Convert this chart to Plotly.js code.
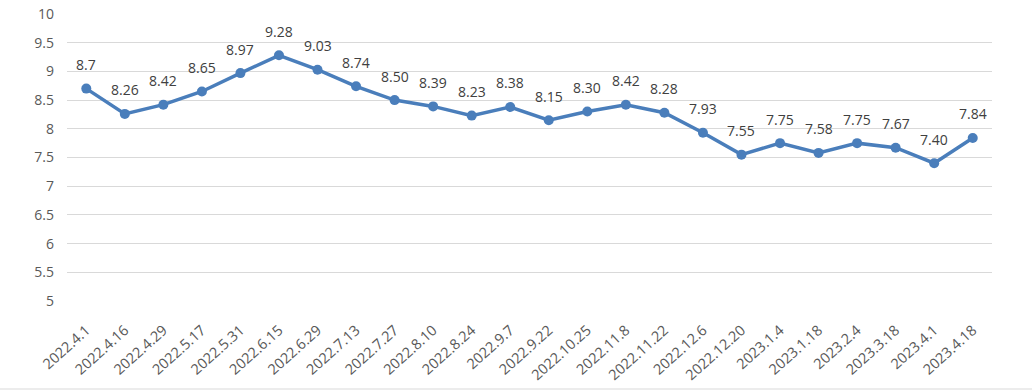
<!DOCTYPE html>
<html><head><meta charset="utf-8">
<script src="https://cdn.plot.ly/plotly-3.0.1.min.js"></script>
<style>html,body{margin:0;padding:0;background:#fff}#c{width:1032px;height:391px}</style>
</head><body><div id="c"></div>
<script>
const categories = ["2022.4.1","2022.4.16","2022.4.29","2022.5.17","2022.5.31","2022.6.15","2022.6.29","2022.7.13","2022.7.27","2022.8.10","2022.8.24","2022.9.7","2022.9.22","2022.10.25","2022.11.8","2022.11.22","2022.12.6","2022.12.20","2023.1.4","2023.1.18","2023.2.4","2023.3.18","2023.4.1","2023.4.18"];
const values = [8.7,8.26,8.42,8.65,8.97,9.28,9.03,8.74,8.50,8.39,8.23,8.38,8.15,8.30,8.42,8.28,7.93,7.55,7.75,7.58,7.75,7.67,7.40,7.84];
const labels = ["8.7","8.26","8.42","8.65","8.97","9.28","9.03","8.74","8.50","8.39","8.23","8.38","8.15","8.30","8.42","8.28","7.93","7.55","7.75","7.58","7.75","7.67","7.40","7.84"];
const yTicks = [5,5.5,6,6.5,7,7.5,8,8.5,9,9.5,10];
const yTickText = ["5","5.5","6","6.5","7","7.5","8","8.5","9","9.5","10"];

const font = "Open Sans, sans-serif";
const annotations = categories.map((c,i)=>({
  x:c, y:values[i], xref:'x', yref:'y', text:labels[i], showarrow:false,
  yshift:24, font:{family:font,size:14,color:'#404040'}
}));
const layout = {
  width:1032, height:391,
  margin:{l:67,r:40,t:14,b:90},
  paper_bgcolor:'#fff', plot_bgcolor:'#fff',
  showlegend:false,
  xaxis:{type:'category', range:[-0.5,23.5], showgrid:false, zeroline:false, showline:false,
    ticks:'', tickangle:-42, ticklabelstandoff:17, tickfont:{family:font,size:14.5,color:'#595959'}},
  yaxis:{range:[5,10], tickvals:yTicks, ticktext:yTickText, showgrid:true, gridcolor:'#d9d9d9', gridwidth:1,
    zeroline:false, showline:false, ticks:'', ticklabelstandoff:12, tickfont:{family:font,size:14,color:'#595959'}},
  annotations:annotations,
  shapes:[{type:'line', xref:'paper', yref:'paper', x0:-67/925, x1:1+40/925, y0:-88/287, y1:-88/287, line:{color:'#d9d9d9',width:1}}]
};
Plotly.newPlot('c',[{x:categories,y:values,type:'scatter',mode:'lines+markers',
  line:{color:'#4a7ebb',width:3.5}, marker:{color:'#4a7ebb',size:10}, cliponaxis:false, hoverinfo:'none'}],layout,{staticPlot:true});
</script></body></html>
